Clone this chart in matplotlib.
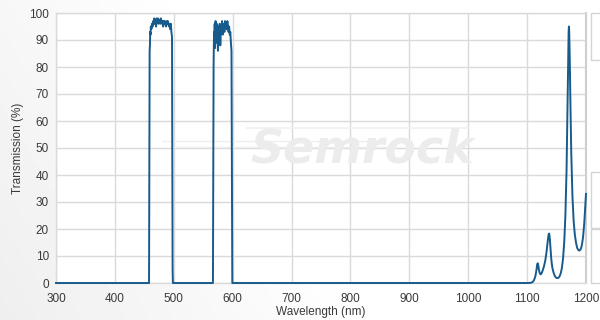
import numpy as np
import matplotlib
matplotlib.use("Agg")
import matplotlib.pyplot as plt
from matplotlib.patches import Rectangle

plt.rcParams["font.family"] = ["Liberation Sans", "DejaVu Sans"]

# transmission spectrum
band1_nm = [457.5, 458.0, 458.6, 459.0, 459.5, 460.0, 460.5, 461, 462, 463, 464,
            465, 466, 467, 468, 469, 470, 471, 472, 473, 474, 475, 476, 477,
            478, 479, 480, 481, 482, 483, 484, 485, 486, 487, 488, 489, 490,
            491, 492, 493, 494, 495, 496, 497, 497.5, 498.0, 498.5]
band1_t = [0, 0, 60, 86, 88, 93, 92, 95, 94, 96, 95, 97, 96, 98, 96, 97, 95,
           98, 97, 98, 96, 97, 97.5, 96, 98, 97, 96, 97, 95, 97, 96, 97, 96,
           95, 97, 96, 97, 96, 95, 96, 94, 96, 93, 91, 50, 5, 0]

band2_nm = [566.5, 567.2, 567.6, 568, 568.5, 569, 569.5, 570, 570.5, 571, 572,
            573, 574, 575, 576, 577, 578, 579, 580, 581, 582, 583, 584, 585,
            586, 587, 588, 589, 590, 591, 592, 593, 594, 595, 596, 597, 598,
            598.8, 599.4]
band2_t = [0, 50, 80, 88, 93, 89, 96, 87, 94, 97, 89, 96, 92, 86, 95, 90, 96,
           88, 94, 93, 97, 92, 95, 96, 93, 97, 95, 96, 94, 97, 95, 93, 95, 92,
           93, 89, 86, 40, 0]

ir_nm = [1100, 1105, 1108, 1110, 1112, 1114, 1116, 1117, 1118, 1119, 1120,
         1121, 1122, 1123, 1124, 1125, 1127, 1129, 1131, 1133, 1135, 1136.5,
         1137.5, 1138.5, 1140, 1141, 1142, 1143, 1145, 1147, 1149, 1151, 1153,
         1155, 1157, 1159, 1161, 1163, 1165, 1167, 1168.5, 1169.5, 1170.5,
         1171, 1171.5, 1172.5, 1173.5, 1175, 1177, 1179, 1181, 1183, 1185,
         1187, 1189, 1191, 1193, 1195, 1197, 1199, 1200]
ir_t = [0, 0.05, 0.2, 0.5, 1.2, 2.5, 5, 6.8, 7.3, 6.5, 5, 4, 3.4, 3.2, 3.4,
        3.8, 5, 6.5, 8.5, 11.5, 15.5, 18, 18.3, 16.5, 12, 9, 7, 5.5, 3.8, 2.6,
        2.0, 1.8, 1.9, 2.4, 3.5, 5.5, 9, 15, 25, 42, 65, 82, 93, 95, 93, 82,
        67, 48, 32, 23, 18, 15, 13, 12.2, 12, 12.5, 14, 17, 22, 29, 33]

wavelength = [300] + band1_nm + band2_nm + ir_nm
transmission = [0] + band1_t + band2_t + ir_t

x_ticks = [300, 400, 500, 600, 700, 800, 900, 1000, 1100, 1200]
y_ticks = [0, 10, 20, 30, 40, 50, 60, 70, 80, 90, 100]

line_color = "#175b8c"
grid_color = "#dadada"
text_color = "#3a3a3a"

fig = plt.figure(figsize=(6, 3.2), dpi=100)
fig.patch.set_facecolor("white")

# soft grey gradient behind the chart
bg = fig.add_axes([0, 0, 1, 1], zorder=-10)
gx = np.linspace(0, 1, 300)
gy = np.linspace(0, 1, 160)
GX, GY = np.meshgrid(gx, gy)
shade = 0.935 + 0.065 * np.clip(GX * 1.6 + (1 - GY) * 0.5, 0, 1)
bg.imshow(shade, cmap="gray", vmin=0, vmax=1, aspect="auto",
          extent=[0, 1, 0, 1], origin="upper")
bg.axis("off")

# panel stubs at the right edge
for y0, y1 in [(13, 60), (172, 228), (229, 283)]:
    fig.patches.append(Rectangle((591 / 600, 1 - y1 / 320), 0.03,
                                 (y1 - y0) / 320, transform=fig.transFigure,
                                 facecolor="white", edgecolor="#d4d4d4",
                                 lw=1))

ax = fig.add_axes([56 / 600, 37 / 320, 530 / 600, 270 / 320])
ax.set_facecolor("white")
ax.plot(wavelength, transmission, color=line_color, lw=1.4, clip_on=False,
        zorder=3, solid_joinstyle="round")

ax.set_xlim(300, 1200)
ax.set_ylim(0, 100)
ax.set_xticks(x_ticks)
ax.set_yticks(y_ticks)
ax.grid(True, color=grid_color, lw=1)
ax.set_axisbelow(True)
ax.tick_params(length=0, labelsize=8.5, labelcolor=text_color)
ax.tick_params(axis="y", pad=5)
ax.tick_params(axis="x", pad=7)
for s in ax.spines.values():
    s.set_color(grid_color)
    s.set_linewidth(1)
ax.spines["right"].set_color("#cfcfcf")
ax.spines["right"].set_linewidth(1.5)

ax.set_xlabel("Wavelength (nm)", fontsize=8.5, color=text_color, labelpad=1)
ax.set_ylabel("Transmission (%)", fontsize=8.5, color=text_color, labelpad=4)

# watermark
fig.text(362 / 600, 1 - 150 / 320, "Semrock", fontsize=33,
         fontweight="bold", fontstyle="italic", color="#ececec",
         ha="center", va="center", zorder=1, family="DejaVu Sans")
ax.plot([0.20, 0.62], [0.525, 0.525], transform=ax.transAxes,
        color="#efefef", lw=1, zorder=1)
ax.plot([0.22, 0.64], [0.505, 0.505], transform=ax.transAxes,
        color="#efefef", lw=1, zorder=1)
ax.plot([0.36, 0.78], [0.575, 0.575], transform=ax.transAxes,
        color="#f3eef6", lw=1.2, zorder=1)

fig.savefig("out.png", dpi=100)
